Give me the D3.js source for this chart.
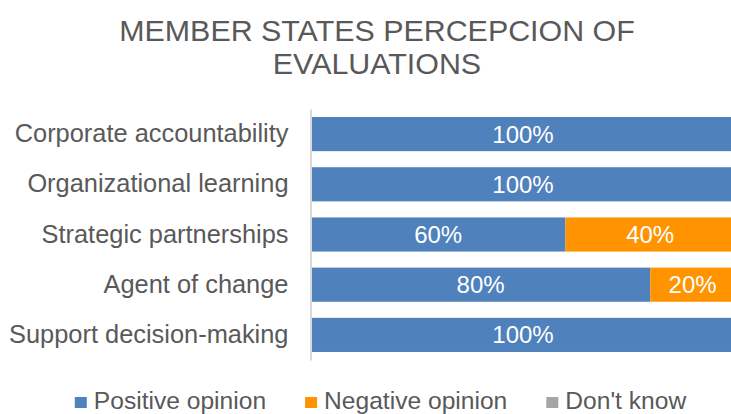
<!DOCTYPE html>
<html>
<head>
<meta charset="utf-8">
<title>Member states perception of evaluations</title>
<script src="https://cdn.jsdelivr.net/npm/d3@7"></script>
<style>
  body { margin: 0; background: #fff; }
  text { font-family: "Liberation Sans", Arial, sans-serif; }
</style>
</head>
<body>
<script>
// chart data
var categories = ["Corporate accountability", "Organizational learning", "Strategic partnerships", "Agent of change", "Support decision-making"];
var positive = [1.0, 1.0, 0.6, 0.8, 1.0];
var negative = [0, 0, 0.4, 0.2, 0];
var dontKnow = [0, 0, 0, 0, 0];
var seriesNames = ["Positive opinion", "Negative opinion", "Don't know"];
var seriesColors = ["#4f81bd", "#ff9300", "#a5a5a5"];
var titleLines = ["MEMBER STATES PERCEPCION OF", "EVALUATIONS"];

var width = 731, height = 414;
var textColor = "#595959";

var svg = d3.select("body").append("svg")
    .attr("width", width)
    .attr("height", height);

// title
svg.append("g").selectAll("text")
    .data(titleLines)
    .enter().append("text")
    .attr("x", 377)
    .attr("y", function(d, i) { return 41 + i * 32.5; })
    .attr("text-anchor", "middle")
    .style("font-size", "30.4px")
    .style("fill", textColor)
    .text(function(d) { return d; });

// scales
var x = d3.scaleLinear().domain([0, 1]).range([311, 735]);
var y = d3.scaleBand().domain(categories).range([109, 360])
    .paddingInner(0.32).paddingOuter(0.16);

// stack the series
var rows = categories.map(function(c, i) {
  return { cat: c, pos: positive[i], neg: negative[i], dk: dontKnow[i] };
});
var stacked = d3.stack().keys(["pos", "neg", "dk"])(rows);

var layer = svg.selectAll("g.layer")
    .data(stacked)
    .enter().append("g")
    .attr("class", "layer")
    .style("fill", function(d, i) { return seriesColors[i]; });

layer.selectAll("rect")
    .data(function(d) { return d; })
    .enter().append("rect")
    .attr("x", function(d) { return x(d[0]); })
    .attr("y", function(d) { return y(d.data.cat); })
    .attr("width", function(d) { return x(d[1]) - x(d[0]); })
    .attr("height", y.bandwidth());

// value labels
layer.selectAll("text")
    .data(function(d) { return d.filter(function(p) { return p[1] - p[0] > 0; }); })
    .enter().append("text")
    .attr("x", function(d) { return (x(d[0]) + x(d[1])) / 2; })
    .attr("y", function(d) { return y(d.data.cat) + y.bandwidth() / 2; })
    .attr("dy", "0.35em")
    .attr("text-anchor", "middle")
    .style("font-size", "24px")
    .style("fill", "#ffffff")
    .text(function(d) { return Math.round((d[1] - d[0]) * 100) + "%"; });

// category axis
var yAxis = svg.append("g")
    .attr("transform", "translate(310.5,0)")
    .call(d3.axisLeft(y).tickSize(0).tickPadding(22));
yAxis.select(".domain").attr("stroke", "#d9d9d9").attr("stroke-width", 2);
yAxis.selectAll("text")
    .style("font-size", "25.4px")
    .style("fill", textColor)
    .style("font-family", "'Liberation Sans', Arial, sans-serif");

// legend
var legend = svg.append("g");
var items = legend.selectAll("g")
    .data(seriesNames)
    .enter().append("g");
items.append("rect")
    .attr("y", 397)
    .attr("width", 12)
    .attr("height", 11)
    .style("fill", function(d, i) { return seriesColors[i]; });
items.append("text")
    .attr("x", 19)
    .attr("y", 409)
    .style("font-size", "24.6px")
    .style("fill", textColor)
    .text(function(d) { return d; });

var offs = 0, pos = [];
items.each(function() {
  pos.push(offs);
  offs += 19 + this.querySelector("text").getComputedTextLength() + 39;
});
var total = offs - 39;
var start = 380.5 - total / 2;
items.attr("transform", function(d, i) { return "translate(" + (start + pos[i]) + ",0)"; });
</script>
</body>
</html>
